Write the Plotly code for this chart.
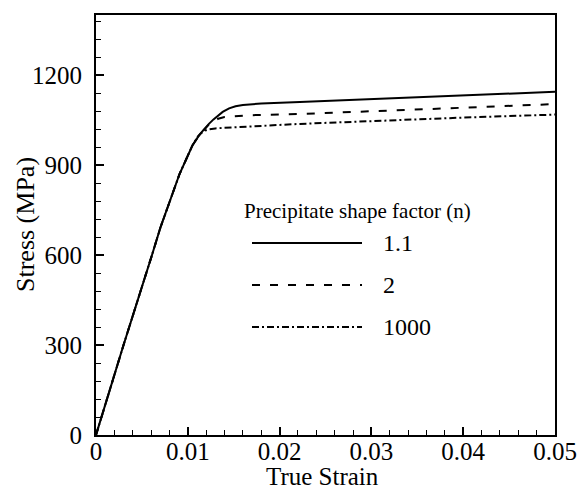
import plotly.graph_objects as go

# ---- data ----
strain_n11 = [0, 0.003, 0.0061, 0.0070, 0.0091, 0.0105, 0.0113, 0.0118, 0.0123, 0.0128, 0.0133, 0.0138, 0.0145, 0.0152, 0.0160, 0.0180, 0.0222, 0.0300, 0.0400, 0.0500]
stress_n11 = [0, 300, 600, 690, 870, 965, 1002, 1020, 1037, 1052, 1065, 1077, 1089, 1096, 1100, 1105, 1110, 1120, 1132, 1144]

strain_n2 = [0, 0.003, 0.0061, 0.0070, 0.0091, 0.0105, 0.0113, 0.0118, 0.0123, 0.0128, 0.0133, 0.0140, 0.0150, 0.0168, 0.0222, 0.0300, 0.0400, 0.0500]
stress_n2 = [0, 300, 600, 690, 870, 965, 1002, 1020, 1035, 1046, 1054, 1060, 1063, 1066, 1070, 1080, 1091, 1103]

strain_n1000 = [0, 0.003, 0.0061, 0.0070, 0.0091, 0.0105, 0.0111, 0.0115, 0.0119, 0.0123, 0.0130, 0.0140, 0.0222, 0.0300, 0.0400, 0.0500]
stress_n1000 = [0, 300, 600, 690, 870, 965, 995, 1007, 1015, 1019, 1022, 1024, 1037, 1047, 1058, 1068]

series_names = ["1.1", "2", "1000"]
legend_title = "Precipitate shape factor (n)"
x_title = "True Strain"
y_title = "Stress (MPa)"
x_ticks = [0, 0.01, 0.02, 0.03, 0.04, 0.05]
x_ticklabels = ["0", "0.01", "0.02", "0.03", "0.04", "0.05"]
y_ticks = [0, 300, 600, 900, 1200]

FONT = "Liberation Serif, Times New Roman, serif"
dashes = ["solid", "8px,10px", "7px,3px,2px,3px"]

fig = go.Figure()
for xs, ys, name, d in zip([strain_n11, strain_n2, strain_n1000],
                           [stress_n11, stress_n2, stress_n1000],
                           series_names, dashes):
    fig.add_trace(go.Scatter(x=xs, y=ys, mode="lines", name=name,
                             line=dict(color="black", width=2, dash=d),
                             showlegend=False))

# ---- pixel helpers for the plot area ----
L, R, T, B = 96, 555, 15, 435
W, H = R - L, B - T
def px(x): return (x - L) / W
def py(y): return (B - y) / H

# ---- manual legend (paper coordinates) ----
fig.add_annotation(x=px(242), y=py(211), xref="paper", yref="paper", text=legend_title,
                   showarrow=False, xanchor="left", yanchor="middle",
                   font=dict(family=FONT, size=21, color="black"))
for i, (name, d) in enumerate(zip(series_names, dashes)):
    yy = 243 + 42 * i
    fig.add_shape(type="line", xref="paper", yref="paper",
                  x0=px(252), x1=px(362), y0=py(yy), y1=py(yy),
                  line=dict(color="black", width=2, dash=d))
    fig.add_annotation(x=px(381), y=py(yy), xref="paper", yref="paper", text=name,
                       showarrow=False, xanchor="left", yanchor="middle",
                       font=dict(family=FONT, size=24, color="black"))

# ---- axis titles as annotations ----
fig.add_annotation(x=px(322), y=py(476), xref="paper", yref="paper", text=x_title,
                   showarrow=False, xanchor="center", yanchor="middle",
                   font=dict(family=FONT, size=25, color="black"))
fig.add_annotation(x=px(25), y=py(225), xref="paper", yref="paper", text=y_title,
                   showarrow=False, xanchor="center", yanchor="middle", textangle=-90,
                   font=dict(family=FONT, size=26, color="black"))

axis_common = dict(showline=True, linecolor="black", linewidth=2, mirror=True,
                   ticks="inside", ticklen=8, tickwidth=2, tickcolor="black",
                   showgrid=False, zeroline=False, automargin=False,
                   tickfont=dict(family=FONT, size=25, color="black"))

fig.update_xaxes(range=[0, 0.05], tickvals=x_ticks, ticktext=x_ticklabels,
                 ticklabelstandoff=-7,
                 minor=dict(ticks="inside", ticklen=5, tickwidth=1, tickcolor="black", dtick=0.002),
                 **axis_common)
fig.update_yaxes(range=[0, 1400], tickvals=y_ticks,
                 ticklabelstandoff=7,
                 minor=dict(ticks="inside", ticklen=5, tickwidth=1, tickcolor="black", dtick=60),
                 **axis_common)

fig.update_layout(width=579, height=490, margin=dict(l=96, r=24, t=15, b=55, autoexpand=False),
                  plot_bgcolor="white", paper_bgcolor="white",
                  font=dict(family=FONT, color="black"))

fig.write_html("out.html")
